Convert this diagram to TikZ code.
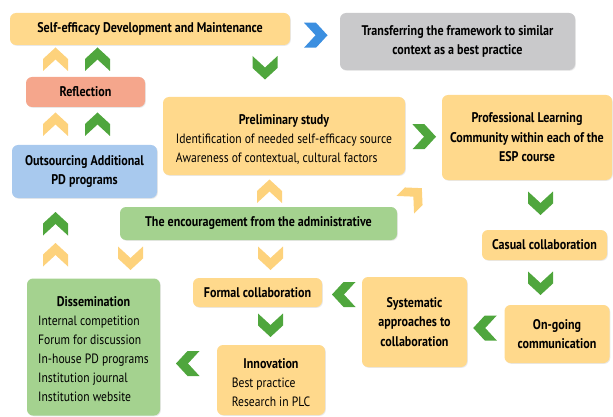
\documentclass[tikz,border=0pt]{standalone}
\usepackage{fontspec}
\setmainfont{PT Sans}[FakeStretch=0.86]
\usepackage{array}
\usetikzlibrary{calc}
\usetikzlibrary{shadows}
\definecolor{cOrange}{HTML}{FFD98C}
\definecolor{cGrey}{HTML}{C9C9CB}
\definecolor{cSalmon}{HTML}{F5A68C}
\definecolor{cBlue}{HTML}{A8C9EE}
\definecolor{cGreenBox}{HTML}{A4D28F}
\definecolor{cGreen}{HTML}{4FA63D}
\definecolor{cYellow}{HTML}{FDD27C}
\definecolor{cArrowBlue}{HTML}{3C8FE0}
\newcommand\boxfont{\fontsize{14}{19.5}\selectfont}
\newcommand\listfont{\fontsize{13.5}{19}\selectfont}
\newcommand\titled[2]{%
  \begin{tabular}{@{}l@{}}\multicolumn{1}{@{}c@{}}{\rule{0pt}{20pt}\boxfont\bfseries #1}\\ #2\end{tabular}}
\tikzstyle{box}=[rounded corners=6pt,inner sep=0pt,align=center,font=\boxfont\bfseries,
  drop shadow={opacity=.18,shadow xshift=.8pt,shadow yshift=-.8pt}]
\tikzstyle{lbox}=[box,font=\listfont]
\tikzset{chev/.pic={\path[pic actions] (-11,12.5) -- (1,12.5) -- (12.5,0) -- (1,-12.5) -- (-11,-12.5) -- (.5,0) -- cycle;}}
\tikzstyle{gdown}=[fill=cGreen,rotate=-90]
\tikzstyle{gup}=[fill=cGreen,rotate=90]
\tikzstyle{gleft}=[fill=cGreen,rotate=180]
\tikzstyle{gright}=[fill=cGreen]
\tikzstyle{yup}=[fill=cYellow,rotate=90]
\tikzstyle{ydown}=[fill=cYellow,rotate=-90]
\begin{document}
\begin{tikzpicture}[x=1pt,y=-1pt]
  \useasboundingbox (0,0) rectangle (613,417);
  % boxes
  \node[box,fill=cOrange,minimum width=280,minimum height=32] (sedm) at (150,29) {Self-efficacy Development and Maintenance};
  \node[box,fill=cGrey,minimum width=235,minimum height=57] (transfer) at (457.5,41.5) {Transferring the framework to similar\\context as a best practice};
  \node[box,fill=cSalmon,minimum width=119,minimum height=30] (refl) at (85.5,92) {Reflection};
  \node[box,fill=cBlue,minimum width=145,minimum height=53] (outs) at (84.5,171.5) {Outsourcing Additional\\PD programs};
  \node[lbox,fill=cOrange,minimum width=242,minimum height=78] (prelim) at (284,136)
    {\titled{Preliminary study}{Identification of needed self-efficacy source\\Awareness of contextual, cultural factors}};
  \node[box,fill=cOrange,minimum width=170,minimum height=85] (plc) at (527,137.5) {Professional Learning\\Community within each of the\\ESP course};
  \node[box,fill=cGreenBox,minimum width=277,minimum height=33] (enc) at (258.5,223.5) {The encouragement from the administrative};
  \node[box,fill=cOrange,minimum width=125,minimum height=30] (casual) at (544.5,245) {Casual collaboration};
  \node[box,fill=cOrange,minimum width=105,minimum height=58] (ongoing) at (557,334) {On-going\\communication};
  \node[box,fill=cOrange,minimum width=105,minimum height=90] (system) at (414.5,322) {Systematic\\approaches to\\collaboration};
  \node[box,fill=cOrange,minimum width=129,minimum height=29] (formal) at (257.5,292.5) {Formal collaboration};
  \node[lbox,fill=cOrange,minimum width=108,minimum height=70] (innov) at (271,380)
    {\titled{Innovation}{Best practice\\Research in PLC}};
  \node[lbox,fill=cGreenBox,minimum width=133,minimum height=137] (dissem) at (93.5,347)
    {\titled{Dissemination}{Internal competition\\Forum for discussion\\In-house PD programs\\Institution journal\\Institution website}};
  % chevrons
  \pic[fill=cArrowBlue] at ($(sedm.east)!.5!(transfer.west)$) {chev};
  \pic[gdown] at (265,67) {chev};
  \pic[yup] at (55.5,60) {chev};
  \pic[gup] at (97.5,60) {chev};
  \pic[yup] at (55.5,125) {chev};
  \pic[gup] at (97.5,125) {chev};
  \pic[gright] at ($(prelim.east)!.5!(plc.west)$) {chev};
  \pic[yup] at (269.5,192) {chev};
  \pic[fill=cYellow,rotate=45] at (413,197) {chev};
  \pic[gup] at (55.5,224.5) {chev};
  \pic[yup] at (55.5,255.5) {chev};
  \pic[ydown] at (130.5,257.5) {chev};
  \pic[ydown] at (270.5,257.5) {chev};
  \pic[gdown] at (540.5,202.5) {chev};
  \pic[gdown] at (540.5,282.5) {chev};
  \pic[gleft] at ($(system.east)!.5!(ongoing.west)$) {chev};
  \pic[gleft] at (344.5,294.5) {chev};
  \pic[gdown] at (270.5,324.5) {chev};
  \pic[gleft] at ($(dissem.east)!.5!(innov.west)$) {chev};
\end{tikzpicture}
\end{document}
